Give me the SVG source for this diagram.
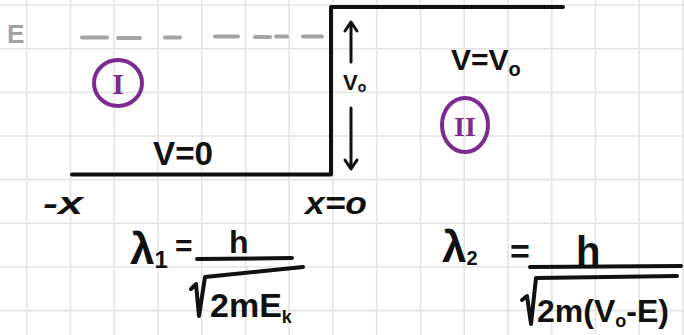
<svg xmlns="http://www.w3.org/2000/svg" width="684" height="335" viewBox="0 0 684 335">
<style>
.grid{stroke:#e4e4e4;stroke-width:1.6;fill:none}
.ink{stroke:#111;stroke-width:4;fill:none;stroke-linecap:round;stroke-linejoin:round}
.thin{stroke:#111;stroke-width:3;fill:none;stroke-linecap:round;stroke-linejoin:round}
.dash{stroke:#a3a3a3;stroke-width:4;fill:none;stroke-linecap:round}
.t{font-family:"Liberation Sans","DejaVu Sans",sans-serif;fill:#111;font-weight:bold}
.g{font-family:"Liberation Sans","DejaVu Sans",sans-serif;fill:#a3a3a3}
.p{font-family:"Liberation Serif",serif;fill:#7b2a8e;font-weight:bold}
.circ{stroke:#7b2a8e;stroke-width:4;fill:none}
</style>
<rect width="684" height="335" fill="#fff"/>
<g id="grid" class="grid">
<path d="M26.7 0V335M70.5 0V335M114.2 0V335M158 0V335M201.7 0V335M245.5 0V335M289.2 0V335M333 0V335M376.7 0V335M420.5 0V335M464.2 0V335M508 0V335M551.7 0V335M595.5 0V335M639.2 0V335M683 0V335"/>
<path d="M0 5H684M0 48.7H684M0 92.3H684M0 136H684M0 179.6H684M0 223.3H684M0 267H684M0 310.6H684"/>
</g>
<g id="energy-level">
<text class="g" x="7" y="43" font-size="26" font-weight="bold">E</text>
<path class="dash" d="M82 37.5H107M118 38H140M165 37.5H180M215 36.5H238M255 37H270M276 36.5H287M303 36.5H322"/>
</g>
<g id="potential-step">
<path class="ink" d="M72 174.5H331V7H563"/>
</g>
<g id="connectors">
<path class="thin" d="M351 62V23M345 31L351 22L357 31"/>
<path class="thin" d="M351 108V168M345 160L351 169L357 160"/>
</g>
<g id="label-v0">
<text class="t" x="343" y="90" font-size="22">V<tspan font-size="14" dy="2">o</tspan></text>
</g>
<g id="region-I">
<ellipse class="circ" cx="118" cy="83" rx="24" ry="23"/>
<text class="p" x="118" y="94" font-size="30" text-anchor="middle">I</text>
</g>
<g id="region-II">
<ellipse class="circ" cx="465" cy="125" rx="23" ry="27"/>
<text class="p" x="465" y="136" font-size="28" text-anchor="middle">II</text>
</g>
<g id="label-V0-region">
<text class="t" x="153" y="165" font-size="34" textLength="60" lengthAdjust="spacingAndGlyphs">V=0</text>
</g>
<g id="label-VV0">
<text class="t" x="451" y="70" font-size="30">V=V<tspan font-size="20" dy="6">o</tspan></text>
</g>
<g id="axis-labels">
<text class="t" x="43" y="214" font-size="32" font-style="italic" textLength="40" lengthAdjust="spacingAndGlyphs">-x</text>
<text class="t" x="305" y="214" font-size="32" font-style="italic" textLength="62" lengthAdjust="spacingAndGlyphs">x=o</text>
</g>
<g id="lambda1">
<text class="t" x="130" y="264" font-size="44">λ<tspan font-size="24" dy="4">1</tspan></text>
<text class="t" x="175" y="256" font-size="30">=</text>
<text class="t" x="229" y="253" font-size="32">h</text>
<path class="ink" d="M197 259L292 258"/>
<path class="ink" d="M191 289L196 284L199 316L205 277L303 267"/>
<text class="t" x="210" y="317" font-size="34">2mE<tspan font-size="18" dy="6">k</tspan></text>
</g>
<g id="lambda2">
<text class="t" x="442" y="262" font-size="44">λ<tspan font-size="20" dy="3">2</tspan></text>
<text class="t" x="510" y="263" font-size="34">=</text>
<text class="t" x="576" y="265" font-size="40">h</text>
<path class="ink" d="M530 267L681 266"/>
<path class="ink" d="M522 300L527 296L531 324L536 278L677 276"/>
<text class="t" x="537" y="322" font-size="32">2m(V<tspan font-size="18" dy="5">o</tspan><tspan dy="-5">-E)</tspan></text>
</g>
</svg>
